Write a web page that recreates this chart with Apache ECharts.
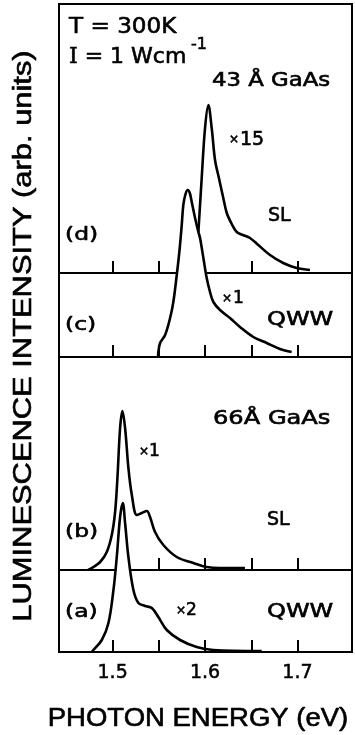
<!DOCTYPE html>
<html>
<head>
<meta charset="utf-8">
<script src="https://cdn.jsdelivr.net/npm/echarts@6/dist/echarts.min.js"></script>
<style>
  html, body { margin: 0; padding: 0; background: #fff; }
  #chart { width: 355px; height: 735px; }
</style>
</head>
<body>
<div id="chart"></div>
<script>
// photon energy (eV) and luminescence (arb. units above each trace's own baseline)
const slEnergy43 = [1.5928, 1.5964, 1.6, 1.6036, 1.6072, 1.6108, 1.615, 1.6195, 1.6235, 1.6289, 1.6343, 1.641, 1.6486, 1.6576, 1.6703, 1.6846, 1.6991, 1.7135];
const slLum43 = [41, 95, 145, 168, 145, 113, 95, 76, 60, 49, 41, 38, 35, 28, 18, 10, 5, 3];

const qwwEnergy43 = [1.5492, 1.5495, 1.5514, 1.5568, 1.5622, 1.5657, 1.5694, 1.5722, 1.5748, 1.5765, 1.5789, 1.5813, 1.5835, 1.5856, 1.5892, 1.5928, 1.5946, 1.5982, 1.6018, 1.6054, 1.609, 1.6162, 1.627, 1.6378, 1.6522, 1.6667, 1.6811, 1.6937];
const qwwLum43 = [0, 5, 14, 22, 39, 55, 82, 105, 132, 152, 163, 167, 164, 155, 139, 125, 119, 99, 79, 65, 55, 47, 39, 30, 20, 14, 8, 5];

const slEnergy66 = [1.4735, 1.4775, 1.4865, 1.4937, 1.4991, 1.5027, 1.5052, 1.5081, 1.5106, 1.5135, 1.5171, 1.5208, 1.5262, 1.5316, 1.537, 1.5405, 1.5459, 1.5549, 1.5694, 1.5874, 1.6018, 1.6162, 1.6432];
const slLum66 = [0, 2, 8, 18, 35, 58, 92, 142, 159, 142, 102, 75, 55, 57, 59, 53, 38, 25, 13, 7, 3, 2, 2];

const qwwEnergy66 = [1.4775, 1.4792, 1.4883, 1.4955, 1.5009, 1.5045, 1.5081, 1.511, 1.5135, 1.5171, 1.5225, 1.5279, 1.5351, 1.5424, 1.5495, 1.5586, 1.573, 1.591, 1.609, 1.6613];
const qwwLum66 = [0, 2, 12, 29, 62, 95, 135, 149, 129, 95, 62, 49, 46, 44, 35, 22, 12, 5, 2, 1];

const allTicks = [1.5, 1.55, 1.6, 1.65, 1.7];
const tickLabels = [1.5, 1.6, 1.7];

const chart = echarts.init(document.getElementById('chart'));

// every panel grid starts at the top of the frame and ends at its trace's baseline
const FRAME_TOP = 4;
const panels = [
  { energy: slEnergy43, lum: slLum43, bottom: 273, ticks: [1.5, 1.55, 1.65, 1.7], fill: false, axisZ: 0 },
  { energy: qwwEnergy43, lum: qwwLum43, bottom: 357, ticks: allTicks, fill: true, axisZ: 3 },
  { energy: slEnergy66, lum: slLum66, bottom: 570, ticks: [1.55, 1.6, 1.65, 1.7], fill: false, axisZ: 0 },
  { energy: qwwEnergy66, lum: qwwLum66, bottom: 652, ticks: allTicks, fill: true, axisZ: 3, labels: true },
];

const grids = [];
const xAxes = [];
const yAxes = [];
const series = [];

panels.forEach((p, i) => {
  const h = p.bottom - FRAME_TOP;
  const last = i === panels.length - 1;
  grids.push({
    left: 59, top: FRAME_TOP, width: 293, height: h,
    show: last, borderColor: '#000', borderWidth: 2, backgroundColor: 'transparent',
  });
  xAxes.push({
    gridIndex: i, type: 'value', min: 1.442, max: 1.759, z: p.axisZ,
    axisLine: { show: true, lineStyle: { color: '#000', width: 2 } },
    axisTick: { show: true, inside: true, length: 12, customValues: p.ticks, lineStyle: { color: '#000', width: 2 } },
    axisLabel: {
      show: !!p.labels, customValues: tickLabels, margin: 12,
      color: '#000', fontSize: 19, fontFamily: 'DejaVu Sans',
      textBorderColor: '#000', textBorderWidth: 0.5,
    },
    splitLine: { show: false },
  });
  yAxes.push({ gridIndex: i, type: 'value', min: 0, max: h, show: false });
  series.push({
    type: 'line', xAxisIndex: i, yAxisIndex: i,
    data: p.energy.map((e, k) => [e, p.lum[k]]),
    symbol: 'none', smooth: 0.35,
    lineStyle: { color: '#000', width: 2.6 },
    areaStyle: p.fill ? { color: '#fff', opacity: 1 } : undefined,
    silent: true, animation: false,
  });
});

// the scanned lettering is heavier than a regular face, so give it a thin outline
function label(x, y, text, size, extra) {
  return Object.assign({
    type: 'text', x: x, y: y, silent: true,
    style: Object.assign({
      text: text, fill: '#000', fontSize: size, fontFamily: 'DejaVu Sans',
      stroke: '#000', lineWidth: 0.6,
      textAlign: 'left', textVerticalAlign: 'middle',
    }, (extra && extra.style) || {}),
  }, extra && extra.el);
}

const graphics = [
  label(69, 27, 'T = 300K', 22, { el: { scaleX: 1.05 } }),
  label(69, 57, '{s|I} = 1 Wcm', 22, {
    style: { rich: { s: { fontFamily: 'DejaVu Serif', fontSize: 22 } } },
  }),
  label(191, 45, '-1', 16),
  label(212, 81, '43 Å GaAs', 19, { el: { scaleX: 1.2 } }),
  label(229, 140, '×', 12), label(240, 140, '15', 19),
  label(268, 216, 'SL', 19),
  label(65, 235, '(d)', 18, { el: { scaleX: 1.3 } }),
  label(222, 299, '×', 12), label(233, 299, '1', 17),
  label(65, 325, '(c)', 18, { el: { scaleX: 1.3 } }),
  label(267, 320, 'QWW', 20, { el: { scaleX: 1.2 } }),
  label(213, 419, '66Å GaAs', 19, { el: { scaleX: 1.27 } }),
  label(139, 452, '×', 12), label(149, 452, '1', 17),
  label(267, 520, 'SL', 19),
  label(65, 532, '(b)', 18, { el: { scaleX: 1.3 } }),
  label(65, 612, '(a)', 18, { el: { scaleX: 1.3 } }),
  label(176, 611, '×', 12), label(186, 611, '2', 17),
  label(267, 612, 'QWW', 20, { el: { scaleX: 1.2 } }),
  label(198, 719, 'PHOTON ENERGY (eV)', 25, {
    el: { scaleX: 1.1 },
    style: { fontFamily: 'Liberation Sans', textAlign: 'center' },
  }),
  label(24, 336, 'LUMINESCENCE INTENSITY (arb. units)', 25, {
    el: { rotation: Math.PI / 2, scaleX: 1.235 },
    style: { fontFamily: 'Liberation Sans', textAlign: 'center' },
  }),
];

chart.setOption({
  animation: false,
  backgroundColor: '#fff',
  grid: grids,
  xAxis: xAxes,
  yAxis: yAxes,
  series: series,
  graphic: graphics,
});

window.addEventListener('resize', () => chart.resize());
</script>
</body>
</html>
